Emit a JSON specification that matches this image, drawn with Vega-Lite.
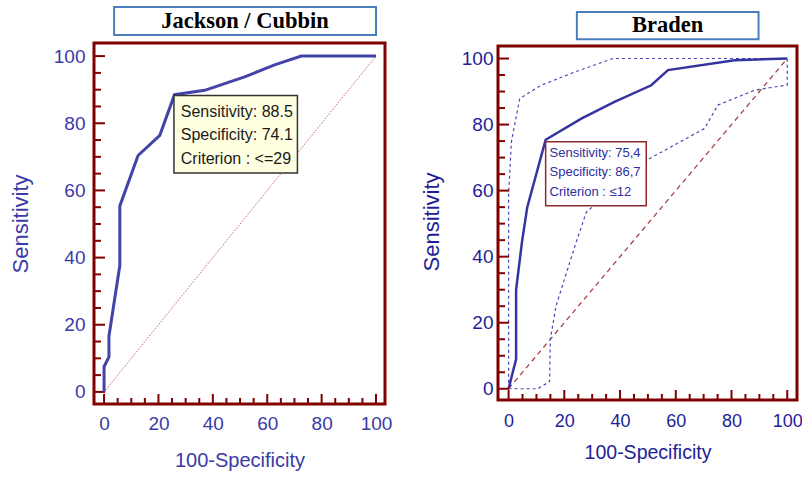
{
  "$schema": "https://vega.github.io/schema/vega-lite/v6.json",
  "background": "white",
  "padding": {"left": 7, "top": 4, "right": 2, "bottom": 0},
  "columns": 2,
  "align": "none",
  "spacing": 26,
  "config": {
    "view": {"stroke": "#800000", "strokeWidth": 3},
    "axis": {
      "grid": false,
      "domain": false,
      "ticks": false,
      "labelFont": "Liberation Sans",
      "titleFont": "Liberation Sans",
      "titleFontWeight": "normal"
    }
  },
  "datasets": {
    "tk_major": [{"v": 0}, {"v": 20}, {"v": 40}, {"v": 60}, {"v": 80}, {"v": 100}],
    "tk_minor": [
      {"v": 5}, {"v": 10}, {"v": 15}, {"v": 25}, {"v": 30}, {"v": 35}, {"v": 45}, {"v": 50}, {"v": 55},
      {"v": 65}, {"v": 70}, {"v": 75}, {"v": 85}, {"v": 90}, {"v": 95}
    ],
    "diag": [{"fpr": 0, "sens": 0}, {"fpr": 100, "sens": 100}],
    "jc": [
      {"fpr": 0, "sens": 0}, {"fpr": 0, "sens": 7.5}, {"fpr": 1.8, "sens": 10.4}, {"fpr": 1.8, "sens": 16.6},
      {"fpr": 5.8, "sens": 37.7}, {"fpr": 5.8, "sens": 55.4}, {"fpr": 12.5, "sens": 70.4}, {"fpr": 20.5, "sens": 76.4},
      {"fpr": 25.9, "sens": 88.5}, {"fpr": 37, "sens": 89.8}, {"fpr": 51.7, "sens": 93.8}, {"fpr": 62.7, "sens": 97.4},
      {"fpr": 72.5, "sens": 100}, {"fpr": 100, "sens": 100}
    ],
    "br": [
      {"fpr": 0, "sens": 0}, {"fpr": 2.7, "sens": 9}, {"fpr": 2.7, "sens": 30}, {"fpr": 4.8, "sens": 44.4},
      {"fpr": 6.7, "sens": 55}, {"fpr": 13.3, "sens": 75.4}, {"fpr": 26.1, "sens": 81.8}, {"fpr": 38, "sens": 86.9},
      {"fpr": 51.2, "sens": 91.9}, {"fpr": 57.2, "sens": 96.5}, {"fpr": 81.1, "sens": 99.5}, {"fpr": 100, "sens": 100}
    ],
    "br_up": [
      {"fpr": 0, "sens": 0}, {"fpr": 0, "sens": 58.6}, {"fpr": 1, "sens": 74.7}, {"fpr": 4, "sens": 87.9},
      {"fpr": 11.7, "sens": 91.9}, {"fpr": 23.7, "sens": 95.9}, {"fpr": 37.5, "sens": 100}, {"fpr": 100, "sens": 100}
    ],
    "br_lo": [
      {"fpr": 0, "sens": 0}, {"fpr": 10.5, "sens": 0}, {"fpr": 14.7, "sens": 2.2}, {"fpr": 15, "sens": 15.2},
      {"fpr": 17.1, "sens": 25.3}, {"fpr": 24.3, "sens": 44.5}, {"fpr": 27.9, "sens": 53.5}, {"fpr": 50.6, "sens": 69.7},
      {"fpr": 70.3, "sens": 78.8}, {"fpr": 75.1, "sens": 85.9}, {"fpr": 88.3, "sens": 90.4}, {"fpr": 100, "sens": 92},
      {"fpr": 100, "sens": 100}
    ]
  },
  "concat": [
    {
      "width": 291,
      "height": 361,
      "layer": [
        {
          "data": {"name": "diag"},
          "mark": {"type": "line", "color": "#d06060", "strokeWidth": 1, "strokeDash": [1.5, 1.5]},
          "encoding": {
            "x": {
              "field": "fpr", "type": "quantitative",
              "scale": {"domain": [-3.7, 103.3], "nice": false, "zero": false},
              "axis": {
                "values": [0, 20, 40, 60, 80, 100],
                "labelPadding": 10, "labelFontSize": 19, "labelColor": "#3a3aa8",
                "title": "100-Specificity", "titleFontSize": 20, "titlePadding": 17, "titleColor": "#3a3aa8"
              }
            },
            "y": {
              "field": "sens", "type": "quantitative",
              "scale": {"domain": [-3.6, 103.9], "nice": false, "zero": false},
              "axis": {
                "values": [0, 20, 40, 60, 80, 100],
                "labelPadding": 9, "labelFontSize": 19, "labelColor": "#3a3aa8",
                "title": "Sensitivity", "titleFontSize": 22, "titlePadding": 21, "titleColor": "#3a3aa8"
              }
            }
          }
        },
        {
          "data": {"name": "tk_major"},
          "mark": {"type": "rule", "color": "#800000", "strokeWidth": 2},
          "encoding": {
            "x": {"field": "v", "type": "quantitative", "scale": {"domain": [-3.7, 103.3], "nice": false, "zero": false}, "title": "100-Specificity"},
            "y": {"datum": -3.6, "type": "quantitative", "scale": {"domain": [-3.6, 103.9], "nice": false, "zero": false}, "title": "Sensitivity"},
            "y2": {"datum": -0.62}
          }
        },
        {
          "data": {"name": "tk_minor"},
          "mark": {"type": "rule", "color": "#800000", "strokeWidth": 2},
          "encoding": {
            "x": {"field": "v", "type": "quantitative", "scale": {"domain": [-3.7, 103.3], "nice": false, "zero": false}, "title": "100-Specificity"},
            "y": {"datum": -3.6, "type": "quantitative", "scale": {"domain": [-3.6, 103.9], "nice": false, "zero": false}, "title": "Sensitivity"},
            "y2": {"datum": -1.81}
          }
        },
        {
          "data": {"name": "tk_major"},
          "mark": {"type": "rule", "color": "#800000", "strokeWidth": 2},
          "encoding": {
            "y": {"field": "v", "type": "quantitative", "scale": {"domain": [-3.6, 103.9], "nice": false, "zero": false}, "title": "Sensitivity"},
            "x": {"datum": -3.7, "type": "quantitative", "scale": {"domain": [-3.7, 103.3], "nice": false, "zero": false}, "title": "100-Specificity"},
            "x2": {"datum": 0.34}
          }
        },
        {
          "data": {"name": "tk_minor"},
          "mark": {"type": "rule", "color": "#800000", "strokeWidth": 2},
          "encoding": {
            "y": {"field": "v", "type": "quantitative", "scale": {"domain": [-3.6, 103.9], "nice": false, "zero": false}, "title": "Sensitivity"},
            "x": {"datum": -3.7, "type": "quantitative", "scale": {"domain": [-3.7, 103.3], "nice": false, "zero": false}, "title": "100-Specificity"},
            "x2": {"datum": -1.13}
          }
        },
        {
          "data": {"name": "jc"},
          "mark": {"type": "line", "color": "#4343a8", "strokeWidth": 3},
          "encoding": {
            "x": {"field": "fpr", "type": "quantitative", "scale": {"domain": [-3.7, 103.3], "nice": false, "zero": false}, "title": "100-Specificity"},
            "y": {"field": "sens", "type": "quantitative", "scale": {"domain": [-3.6, 103.9], "nice": false, "zero": false}, "title": "Sensitivity"}
          }
        },
        {
          "data": {"values": [{}]},
          "mark": {"type": "rect", "fill": "#ffffe1", "stroke": "#333333", "strokeWidth": 1.5},
          "encoding": {
            "x": {"datum": 25.7, "type": "quantitative", "scale": {"domain": [-3.7, 103.3], "nice": false, "zero": false}, "title": "100-Specificity"},
            "x2": {"datum": 71.1},
            "y": {"datum": 88.3, "type": "quantitative", "scale": {"domain": [-3.6, 103.9], "nice": false, "zero": false}, "title": "Sensitivity"},
            "y2": {"datum": 65.2}
          }
        },
        {
          "data": {"values": [{}]},
          "mark": {"type": "text", "align": "left", "baseline": "middle", "font": "Liberation Sans", "fontSize": 16, "lineHeight": 23.5, "color": "#1a1a1a"},
          "encoding": {
            "x": {"datum": 28.2, "type": "quantitative", "scale": {"domain": [-3.7, 103.3], "nice": false, "zero": false}, "title": "100-Specificity"},
            "y": {"datum": 83.4, "type": "quantitative", "scale": {"domain": [-3.6, 103.9], "nice": false, "zero": false}, "title": "Sensitivity"},
            "text": {"value": ["Sensitivity: 88.5", "Specificity: 74.1", "Criterion : <=29"]}
          }
        },
        {
          "data": {"values": [{}]},
          "mark": {"type": "rect", "fill": "white", "stroke": "#4a7ebb", "strokeWidth": 2},
          "encoding": {
            "x": {"datum": 3.7, "type": "quantitative", "scale": {"domain": [-3.7, 103.3], "nice": false, "zero": false}, "title": "100-Specificity"},
            "x2": {"datum": 100},
            "y": {"datum": 114.6, "type": "quantitative", "scale": {"domain": [-3.6, 103.9], "nice": false, "zero": false}, "title": "Sensitivity"},
            "y2": {"datum": 106.3}
          }
        },
        {
          "data": {"values": [{}]},
          "mark": {"type": "text", "align": "center", "baseline": "middle", "font": "Liberation Serif", "fontWeight": "bold", "fontSize": 22.5, "color": "#000000"},
          "encoding": {
            "x": {"datum": 51.8, "type": "quantitative", "scale": {"domain": [-3.7, 103.3], "nice": false, "zero": false}, "title": "100-Specificity"},
            "y": {"datum": 110.5, "type": "quantitative", "scale": {"domain": [-3.6, 103.9], "nice": false, "zero": false}, "title": "Sensitivity"},
            "text": {"value": "Jackson / Cubbin"}
          }
        }
      ]
    },
    {
      "width": 299,
      "height": 357,
      "view": {"stroke": null},
      "layer": [
        {
          "data": {"name": "diag"},
          "mark": {"type": "line", "color": "#a03838", "strokeWidth": 1.2, "strokeDash": [5, 4]},
          "encoding": {
            "x": {
              "field": "fpr", "type": "quantitative",
              "scale": {"domain": [-3.8, 103.5], "nice": false, "zero": false},
              "axis": {
                "values": [0, 20, 40, 60, 80, 100],
                "labelPadding": 12, "labelFontSize": 18, "labelColor": "#1e1e96",
                "title": "100-Specificity", "titleFontSize": 19.5, "titlePadding": 13, "titleColor": "#1e1e96"
              }
            },
            "y": {
              "field": "sens", "type": "quantitative",
              "scale": {"domain": [-3.4, 104.7], "nice": false, "zero": false},
              "axis": {
                "values": [0, 20, 40, 60, 80, 100],
                "labelPadding": 5, "labelFontSize": 19, "labelColor": "#1e1e96",
                "title": "Sensitivity", "titleFontSize": 22, "titlePadding": 18, "titleColor": "#1e1e96"
              }
            }
          }
        },
        {
          "data": {"name": "br_up"},
          "mark": {"type": "line", "color": "#4848b8", "strokeWidth": 1.2, "strokeDash": [3, 3]},
          "encoding": {
            "x": {"field": "fpr", "type": "quantitative", "scale": {"domain": [-3.8, 103.5], "nice": false, "zero": false}, "title": "100-Specificity"},
            "y": {"field": "sens", "type": "quantitative", "scale": {"domain": [-3.4, 104.7], "nice": false, "zero": false}, "title": "Sensitivity"}
          }
        },
        {
          "data": {"name": "br_lo"},
          "mark": {"type": "line", "color": "#4848b8", "strokeWidth": 1.2, "strokeDash": [3, 3]},
          "encoding": {
            "x": {"field": "fpr", "type": "quantitative", "scale": {"domain": [-3.8, 103.5], "nice": false, "zero": false}, "title": "100-Specificity"},
            "y": {"field": "sens", "type": "quantitative", "scale": {"domain": [-3.4, 104.7], "nice": false, "zero": false}, "title": "Sensitivity"}
          }
        },
        {
          "data": {"name": "br"},
          "mark": {"type": "line", "color": "#3434a0", "strokeWidth": 2.5},
          "encoding": {
            "x": {"field": "fpr", "type": "quantitative", "scale": {"domain": [-3.8, 103.5], "nice": false, "zero": false}, "title": "100-Specificity"},
            "y": {"field": "sens", "type": "quantitative", "scale": {"domain": [-3.4, 104.7], "nice": false, "zero": false}, "title": "Sensitivity"}
          }
        },
        {
          "data": {"values": [{}]},
          "mark": {"type": "rect", "fill": "white", "stroke": "#8b2a2a", "strokeWidth": 1.5},
          "encoding": {
            "x": {"datum": 13.3, "type": "quantitative", "scale": {"domain": [-3.8, 103.5], "nice": false, "zero": false}, "title": "100-Specificity"},
            "x2": {"datum": 49.4},
            "y": {"datum": 74.8, "type": "quantitative", "scale": {"domain": [-3.4, 104.7], "nice": false, "zero": false}, "title": "Sensitivity"},
            "y2": {"datum": 55.4}
          }
        },
        {
          "data": {"values": [{}]},
          "mark": {"type": "text", "align": "left", "baseline": "middle", "font": "Liberation Sans", "fontSize": 13, "lineHeight": 19.2, "color": "#2e2e9e"},
          "encoding": {
            "x": {"datum": 14.7, "type": "quantitative", "scale": {"domain": [-3.8, 103.5], "nice": false, "zero": false}, "title": "100-Specificity"},
            "y": {"datum": 71.3, "type": "quantitative", "scale": {"domain": [-3.4, 104.7], "nice": false, "zero": false}, "title": "Sensitivity"},
            "text": {"value": ["Sensitivity: 75,4", "Specificity: 86,7", "Criterion : ≤12"]}
          }
        },
        {
          "data": {"values": [{}]},
          "mark": {"type": "rect", "fill": "white", "stroke": "#4a7ebb", "strokeWidth": 2},
          "encoding": {
            "x": {"datum": 24.5, "type": "quantitative", "scale": {"domain": [-3.8, 103.5], "nice": false, "zero": false}, "title": "100-Specificity"},
            "x2": {"datum": 89.7},
            "y": {"datum": 114.1, "type": "quantitative", "scale": {"domain": [-3.4, 104.7], "nice": false, "zero": false}, "title": "Sensitivity"},
            "y2": {"datum": 105.8}
          }
        },
        {
          "data": {"values": [{}]},
          "mark": {"type": "text", "align": "center", "baseline": "middle", "font": "Liberation Serif", "fontWeight": "bold", "fontSize": 22.5, "color": "#000000"},
          "encoding": {
            "x": {"datum": 57.1, "type": "quantitative", "scale": {"domain": [-3.8, 103.5], "nice": false, "zero": false}, "title": "100-Specificity"},
            "y": {"datum": 110.0, "type": "quantitative", "scale": {"domain": [-3.4, 104.7], "nice": false, "zero": false}, "title": "Sensitivity"},
            "text": {"value": "Braden"}
          }
        },
        {
          "data": {"name": "tk_major"},
          "mark": {"type": "rule", "color": "#800000", "strokeWidth": 2},
          "encoding": {
            "x": {"field": "v", "type": "quantitative", "scale": {"domain": [-3.8, 103.5], "nice": false, "zero": false}, "title": "100-Specificity"},
            "y": {"datum": -3.4, "type": "quantitative", "scale": {"domain": [-3.4, 104.7], "nice": false, "zero": false}, "title": "Sensitivity"},
            "y2": {"datum": -0.37}
          }
        },
        {
          "data": {"name": "tk_minor"},
          "mark": {"type": "rule", "color": "#800000", "strokeWidth": 2},
          "encoding": {
            "x": {"field": "v", "type": "quantitative", "scale": {"domain": [-3.8, 103.5], "nice": false, "zero": false}, "title": "100-Specificity"},
            "y": {"datum": -3.4, "type": "quantitative", "scale": {"domain": [-3.4, 104.7], "nice": false, "zero": false}, "title": "Sensitivity"},
            "y2": {"datum": -1.58}
          }
        },
        {
          "data": {"name": "tk_major"},
          "mark": {"type": "rule", "color": "#800000", "strokeWidth": 2},
          "encoding": {
            "y": {"field": "v", "type": "quantitative", "scale": {"domain": [-3.4, 104.7], "nice": false, "zero": false}, "title": "Sensitivity"},
            "x": {"datum": -3.8, "type": "quantitative", "scale": {"domain": [-3.8, 103.5], "nice": false, "zero": false}, "title": "100-Specificity"},
            "x2": {"datum": 0.15}
          }
        },
        {
          "data": {"name": "tk_minor"},
          "mark": {"type": "rule", "color": "#800000", "strokeWidth": 2},
          "encoding": {
            "y": {"field": "v", "type": "quantitative", "scale": {"domain": [-3.4, 104.7], "nice": false, "zero": false}, "title": "Sensitivity"},
            "x": {"datum": -3.8, "type": "quantitative", "scale": {"domain": [-3.8, 103.5], "nice": false, "zero": false}, "title": "100-Specificity"},
            "x2": {"datum": -1.29}
          }
        },
        {
          "data": {"values": [{}]},
          "mark": {"type": "rect", "filled": false, "color": "#800000", "strokeWidth": 3},
          "encoding": {
            "x": {"datum": -3.8, "type": "quantitative", "scale": {"domain": [-3.8, 103.5], "nice": false, "zero": false}, "title": "100-Specificity"},
            "x2": {"datum": 103.5},
            "y": {"datum": -3.4, "type": "quantitative", "scale": {"domain": [-3.4, 104.7], "nice": false, "zero": false}, "title": "Sensitivity"},
            "y2": {"datum": 103.8}
          }
        }
      ]
    }
  ]
}
